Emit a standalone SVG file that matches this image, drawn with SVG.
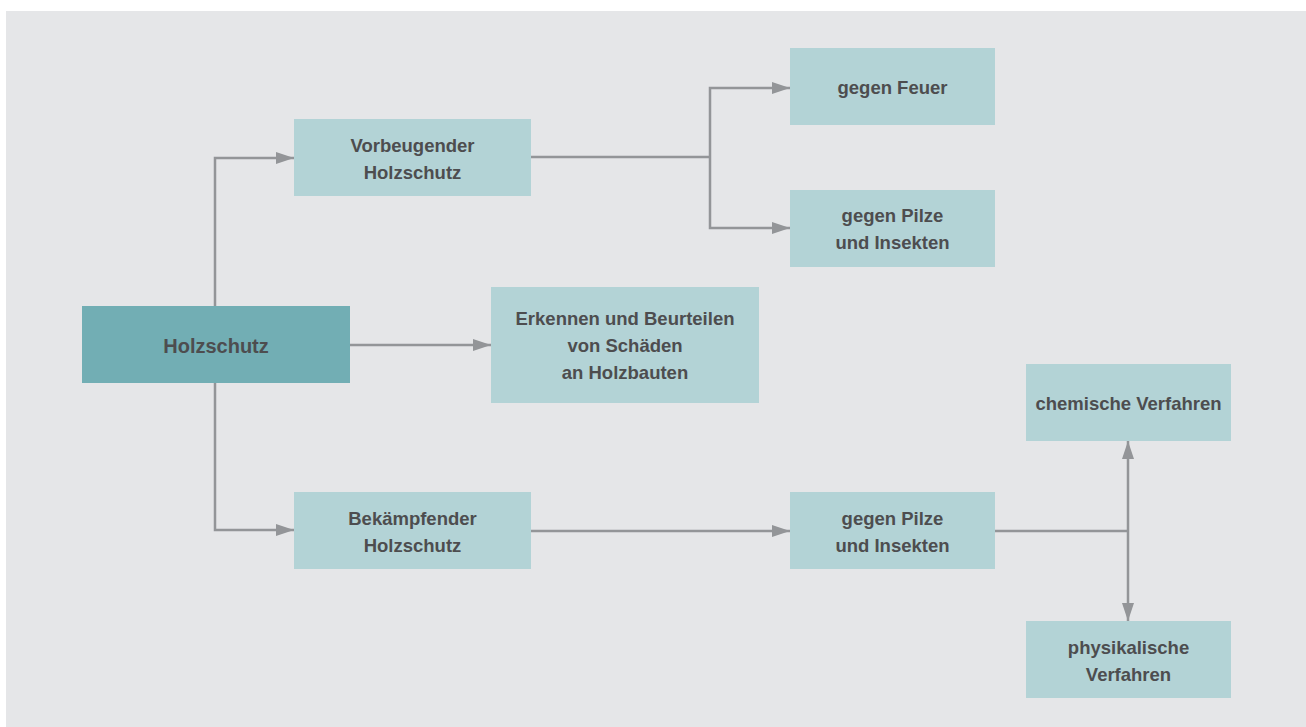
<svg xmlns="http://www.w3.org/2000/svg" width="1306" height="727" viewBox="0 0 1306 727">
  <defs>
    <marker id="arrow" viewBox="0 0 18 12" refX="18" refY="6" markerWidth="18" markerHeight="12" markerUnits="userSpaceOnUse" orient="auto-start-reverse">
      <path d="M0,0 L18,6 L0,12 Z" fill="#939598"/>
    </marker>
    <style>
      .box { fill: #b3d3d6; }
      .root { fill: #72aeb4; }
      .lbl { font-family: "Liberation Sans", Arial, sans-serif; font-weight: bold; font-size: 18.5px; fill: #4d4d4f; text-anchor: middle; }
      .big { font-size: 20px; }
      .con { fill: none; stroke: #939598; stroke-width: 2.5; }
    </style>
  </defs>

  <rect x="0" y="0" width="1306" height="727" fill="#ffffff"/>
  <rect x="6" y="11" width="1300" height="716" fill="#e5e6e8"/>

  <g id="connectors">
    <path class="con" d="M215,306 V158 H294" marker-end="url(#arrow)"/>
    <path class="con" d="M215,383 V530 H294" marker-end="url(#arrow)"/>
    <path class="con" d="M350,345 H491" marker-end="url(#arrow)"/>
    <path class="con" d="M531,157 H710"/>
    <path class="con" d="M710,157 V88 H790" marker-end="url(#arrow)"/>
    <path class="con" d="M710,157 V228 H790" marker-end="url(#arrow)"/>
    <path class="con" d="M531,531 H790" marker-end="url(#arrow)"/>
    <path class="con" d="M995,531 H1128"/>
    <path class="con" d="M1128,441 V621" marker-start="url(#arrow)" marker-end="url(#arrow)"/>
  </g>

  <g id="holzschutz">
    <rect class="root" x="82" y="306" width="268" height="77"/>
    <text class="lbl big" x="216" y="353">Holzschutz</text>
  </g>

  <g id="vorbeugend">
    <rect class="box" x="294" y="119" width="237" height="77"/>
    <text class="lbl" x="412.5" y="152">Vorbeugender</text>
    <text class="lbl" x="412.5" y="179">Holzschutz</text>
  </g>

  <g id="feuer">
    <rect class="box" x="790" y="48" width="205" height="77"/>
    <text class="lbl" x="892.5" y="94">gegen Feuer</text>
  </g>

  <g id="pilze-oben">
    <rect class="box" x="790" y="190" width="205" height="77"/>
    <text class="lbl" x="892.5" y="222">gegen Pilze</text>
    <text class="lbl" x="892.5" y="249">und Insekten</text>
  </g>

  <g id="erkennen">
    <rect class="box" x="491" y="287" width="268" height="116"/>
    <text class="lbl" x="625" y="325">Erkennen und Beurteilen</text>
    <text class="lbl" x="625" y="352">von Schäden</text>
    <text class="lbl" x="625" y="379">an Holzbauten</text>
  </g>

  <g id="bekaempfend">
    <rect class="box" x="294" y="492" width="237" height="77"/>
    <text class="lbl" x="412.5" y="525">Bekämpfender</text>
    <text class="lbl" x="412.5" y="552">Holzschutz</text>
  </g>

  <g id="pilze-unten">
    <rect class="box" x="790" y="492" width="205" height="77"/>
    <text class="lbl" x="892.5" y="525">gegen Pilze</text>
    <text class="lbl" x="892.5" y="552">und Insekten</text>
  </g>

  <g id="chemisch">
    <rect class="box" x="1026" y="364" width="205" height="77"/>
    <text class="lbl" x="1128.5" y="410">chemische Verfahren</text>
  </g>

  <g id="physikalisch">
    <rect class="box" x="1026" y="621" width="205" height="77"/>
    <text class="lbl" x="1128.5" y="654">physikalische</text>
    <text class="lbl" x="1128.5" y="681">Verfahren</text>
  </g>
</svg>
